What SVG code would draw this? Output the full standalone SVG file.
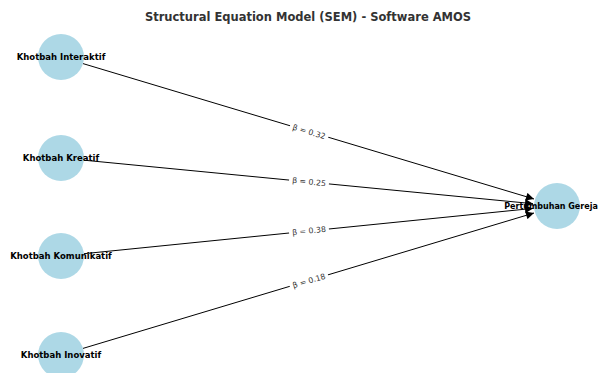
<svg xmlns="http://www.w3.org/2000/svg" width="601" height="373" viewBox="0 0 601 373">
<style>
.node{fill:#add8e6;}
.nl{font-family:"DejaVu Sans",sans-serif;font-weight:bold;font-size:8.5px;fill:#000;text-anchor:middle;dominant-baseline:central;}
.edge{stroke:#000;stroke-width:1;fill:none;marker-end:url(#ah);}
.el{font-family:"DejaVu Sans",sans-serif;font-size:7.8px;fill:#333;text-anchor:middle;dominant-baseline:central;}
.bg{fill:#fff;}
.title{font-family:"DejaVu Sans",sans-serif;font-weight:bold;font-size:11.5px;fill:#333;text-anchor:middle;}
</style>
<defs>
<marker id="ah" viewBox="0 0 10 10" refX="10" refY="5" markerWidth="10" markerHeight="8" markerUnits="userSpaceOnUse" orient="auto">
<path d="M0,0 L10,5 L0,10 z" fill="#000"/>
</marker>
</defs>
<rect width="601" height="373" fill="#fff"/>
<text class="title" x="308" y="21">Structural Equation Model (SEM) - Software AMOS</text>
<g id="connectors">
<line class="edge" x1="83" y1="63.6" x2="534" y2="199"/>
<line class="edge" x1="84" y1="160.2" x2="533" y2="203.7"/>
<line class="edge" x1="84" y1="253.7" x2="533" y2="208.4"/>
<line class="edge" x1="83" y1="348.4" x2="534" y2="213"/>
<g transform="translate(309,132) rotate(16.7)"><rect class="bg" x="-20" y="-5" width="40" height="10"/><text class="el" x="0" y="0">β = 0.32</text></g>
<g transform="translate(309,182) rotate(5.5)"><rect class="bg" x="-20" y="-5" width="40" height="10"/><text class="el" x="0" y="0">β = 0.25</text></g>
<g transform="translate(309,231) rotate(-5.8)"><rect class="bg" x="-20" y="-5" width="40" height="10"/><text class="el" x="0" y="0">β = 0.38</text></g>
<g transform="translate(309,281) rotate(-16.7)"><rect class="bg" x="-20" y="-5" width="40" height="10"/><text class="el" x="0" y="0">β = 0.18</text></g>
</g>
<g id="n1"><circle class="node" cx="61" cy="57" r="23"/><text class="nl" x="61" y="57">Khotbah Interaktif</text></g>
<g id="n2"><circle class="node" cx="61" cy="158" r="23"/><text class="nl" x="61" y="158">Khotbah Kreatif</text></g>
<g id="n3"><circle class="node" cx="61" cy="256" r="23"/><text class="nl" x="61" y="256">Khotbah Komunikatif</text></g>
<g id="n4"><circle class="node" cx="61" cy="355" r="23"/><text class="nl" x="61" y="355">Khotbah Inovatif</text></g>
<g id="n5"><circle class="node" cx="557" cy="206" r="23"/><text class="nl" x="551" y="206" style="font-size:8px">Pertumbuhan Gereja</text></g>
</svg>
